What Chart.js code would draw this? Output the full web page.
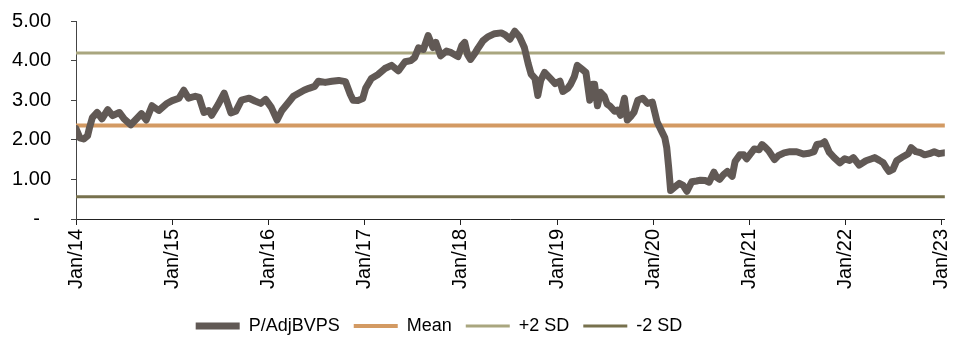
<!DOCTYPE html>
<html>
<head>
<meta charset="utf-8">
<script src="https://cdn.jsdelivr.net/npm/chart.js@4/dist/chart.umd.min.js"></script>
<style>
    html, body { margin: 0; padding: 0; background: #fff; }
    #wrap { position: relative; width: 970px; height: 338px; }
</style>
</head>
<body>
<div id="wrap"><canvas id="pbvChart"></canvas></div>
<script>
// Dates as decimal years
const dates = [
    2014.00, 2014.04, 2014.08, 2014.12, 2014.14, 2014.17, 2014.22, 2014.27, 2014.33, 2014.38,
    2014.45, 2014.50, 2014.57, 2014.63, 2014.68, 2014.73, 2014.79, 2014.86, 2014.94, 2015.00,
    2015.07, 2015.12, 2015.17, 2015.24, 2015.28, 2015.33, 2015.38, 2015.41, 2015.48, 2015.54,
    2015.61, 2015.66, 2015.72, 2015.80, 2015.86, 2015.92, 2015.97, 2016.03, 2016.09, 2016.14,
    2016.21, 2016.26, 2016.31, 2016.37, 2016.42, 2016.48, 2016.52, 2016.59, 2016.66, 2016.73,
    2016.80, 2016.85, 2016.88, 2016.93, 2016.98, 2017.01, 2017.07, 2017.14, 2017.21, 2017.28,
    2017.35, 2017.42, 2017.48, 2017.52, 2017.56, 2017.61, 2017.66, 2017.71, 2017.74, 2017.79,
    2017.85, 2017.90, 2017.95, 2017.97, 2018.01, 2018.04, 2018.07, 2018.10, 2018.15, 2018.18,
    2018.23, 2018.28, 2018.35, 2018.42, 2018.46, 2018.51, 2018.56, 2018.61, 2018.66, 2018.70,
    2018.73, 2018.77, 2018.80, 2018.83, 2018.87, 2018.93, 2018.98, 2019.03, 2019.06, 2019.11,
    2019.14, 2019.18, 2019.21, 2019.26, 2019.30, 2019.34, 2019.37, 2019.39, 2019.42, 2019.45,
    2019.49, 2019.52, 2019.55, 2019.60, 2019.63, 2019.66, 2019.70, 2019.73, 2019.77, 2019.80,
    2019.84, 2019.89, 2019.94, 2019.99, 2020.04, 2020.09, 2020.12, 2020.14, 2020.16, 2020.18,
    2020.22, 2020.27, 2020.31, 2020.35, 2020.40, 2020.45, 2020.49, 2020.54, 2020.58, 2020.63,
    2020.66, 2020.69, 2020.73, 2020.77, 2020.82, 2020.85, 2020.90, 2020.94, 2020.97, 2021.05,
    2021.10, 2021.13, 2021.16, 2021.20, 2021.26, 2021.30, 2021.36, 2021.42, 2021.49, 2021.56,
    2021.62, 2021.67, 2021.70, 2021.75, 2021.78, 2021.83, 2021.88, 2021.94, 2021.99, 2022.04,
    2022.08, 2022.14, 2022.21, 2022.27, 2022.30, 2022.35, 2022.39, 2022.42, 2022.45, 2022.49,
    2022.53, 2022.60, 2022.65, 2022.68, 2022.73, 2022.77, 2022.82, 2022.87, 2022.92, 2022.97,
    2023.02
];

// P/AdjBVPS values
const pbv = [
    2.28, 2.05, 2.02, 2.10, 2.30, 2.56, 2.69, 2.53, 2.76, 2.61,
    2.69, 2.53, 2.38, 2.53, 2.66, 2.50, 2.86, 2.74, 2.91, 2.99,
    3.05, 3.25, 3.05, 3.10, 3.07, 2.69, 2.74, 2.62, 2.90, 3.18,
    2.68, 2.72, 3.00, 3.05, 2.98, 2.92, 3.02, 2.82, 2.50, 2.74,
    2.95, 3.10, 3.17, 3.25, 3.30, 3.35, 3.48, 3.45, 3.48, 3.50,
    3.47, 3.15, 3.00, 2.99, 3.04, 3.30, 3.55, 3.65, 3.80, 3.88,
    3.74, 3.97, 4.00, 4.08, 4.32, 4.28, 4.63, 4.33, 4.46, 4.12,
    4.24, 4.20, 4.13, 4.10, 4.38, 4.46, 4.15, 4.03, 4.20, 4.32,
    4.50, 4.60, 4.68, 4.70, 4.65, 4.54, 4.74, 4.60, 4.33, 3.92,
    3.66, 3.55, 3.12, 3.50, 3.70, 3.55, 3.42, 3.48, 3.22, 3.30,
    3.40, 3.60, 3.88, 3.78, 3.70, 3.00, 3.40, 3.40, 2.86, 3.20,
    3.10, 2.90, 2.85, 2.72, 2.75, 2.62, 3.05, 2.50, 2.60, 2.70,
    3.00, 3.05, 2.92, 2.95, 2.45, 2.20, 2.05, 1.80, 1.30, 0.72,
    0.80, 0.90, 0.85, 0.70, 0.94, 0.96, 0.98, 0.97, 0.93, 1.18,
    1.05, 1.00, 1.12, 1.20, 1.08, 1.45, 1.62, 1.62, 1.52, 1.77,
    1.75, 1.88, 1.82, 1.72, 1.50, 1.60, 1.67, 1.70, 1.70, 1.64,
    1.66, 1.70, 1.88, 1.90, 1.95, 1.68, 1.55, 1.42, 1.52, 1.48,
    1.55, 1.36, 1.47, 1.52, 1.55, 1.48, 1.42, 1.30, 1.20, 1.25,
    1.47, 1.58, 1.65, 1.80, 1.70, 1.68, 1.62, 1.65, 1.70, 1.65,
    1.67
];

// Mean and +/- 2 standard deviation bands
const bandNames = ['Mean', '+2 SD', '-2 SD'];
const bandLevels = [2.36, 4.19, 0.56];
const bandColors = ['#d39a63', '#a9a67f', '#77714d'];
const bandWidths = [4, 3, 3];

const seriesName = 'P/AdjBVPS';
const xRange = [2014, 2023.03];
const xTickYears = [2014, 2015, 2016, 2017, 2018, 2019, 2020, 2021, 2022, 2023];
const xTickLabels = ['Jan/14', 'Jan/15', 'Jan/16', 'Jan/17', 'Jan/18', 'Jan/19', 'Jan/20', 'Jan/21', 'Jan/22', 'Jan/23'];
const yTickLabels = ['-  ', '1.00', '2.00', '3.00', '4.00', '5.00'];

const FONT = "'Liberation Sans', Arial, sans-serif";

const datasets = [{
    label: seriesName,
    data: dates.map((d, i) => ({ x: d, y: pbv[i] })),
    borderColor: '#615955',
    backgroundColor: '#615955',
    borderWidth: 7,
    borderCapStyle: 'round',
    borderJoinStyle: 'round',
    pointRadius: 0,
    tension: 0
}];

bandNames.forEach((name, i) => {
    datasets.push({
        label: name,
        data: [{ x: xRange[0], y: bandLevels[i] }, { x: xRange[1], y: bandLevels[i] }],
        borderColor: bandColors[i],
        backgroundColor: bandColors[i],
        borderWidth: bandWidths[i],
        borderCapStyle: 'round',
        pointRadius: 0
    });
});

// Nudge the legend to sit left of centre and a bit lower, like the original
const legendNudge = {
    id: 'legendNudge',
    afterLayout(chart) {
        const lg = chart.legend;
        if (!lg) return;
        lg.right -= 70;
        lg.top += 7;
        lg.bottom += 7;
    }
};

const ctx = document.getElementById('pbvChart').getContext('2d');
const chart = new Chart(ctx, {
    type: 'line',
    data: { datasets: datasets },
    plugins: [legendNudge],
    options: {
        responsive: true,
        maintainAspectRatio: false,
        animation: false,
        layout: { padding: { left: 0, right: 22, top: 21, bottom: 0 } },
        plugins: {
            tooltip: { enabled: false },
            legend: {
                position: 'bottom',
                labels: {
                    usePointStyle: true,
                    pointStyle: 'line',
                    pointStyleWidth: 44,
                    boxHeight: 6,
                    padding: 14,
                    color: '#000',
                    font: { family: FONT, size: 18 }
                }
            }
        },
        scales: {
            x: {
                type: 'linear',
                min: xRange[0],
                max: xRange[1],
                afterBuildTicks: (scale) => {
                    scale.ticks = xTickYears.map(v => ({ value: v }));
                },
                afterFit: (scale) => { scale.height = 77; },
                border: { color: '#222', width: 1 },
                grid: { drawOnChartArea: false, tickLength: 6, color: '#222' },
                ticks: {
                    autoSkip: false,
                    minRotation: 90,
                    maxRotation: 90,
                    padding: 4,
                    color: '#000',
                    font: { family: FONT, size: 20 },
                    callback: (value) => {
                        const idx = xTickYears.indexOf(value);
                        return idx >= 0 ? xTickLabels[idx] : '';
                    }
                }
            },
            y: {
                min: 0,
                max: 5,
                afterFit: (scale) => {
                    scale.width = 76;
                    scale.paddingTop = 0;
                    scale.paddingBottom = 0;
                },
                border: { color: '#444', width: 1 },
                grid: { drawOnChartArea: false, tickLength: 5, color: '#444' },
                ticks: {
                    stepSize: 1,
                    padding: 20,
                    color: '#000',
                    font: { family: FONT, size: 20 },
                    callback: (value) => yTickLabels[Math.round(value)]
                }
            }
        }
    }
});
</script>
</body>
</html>
